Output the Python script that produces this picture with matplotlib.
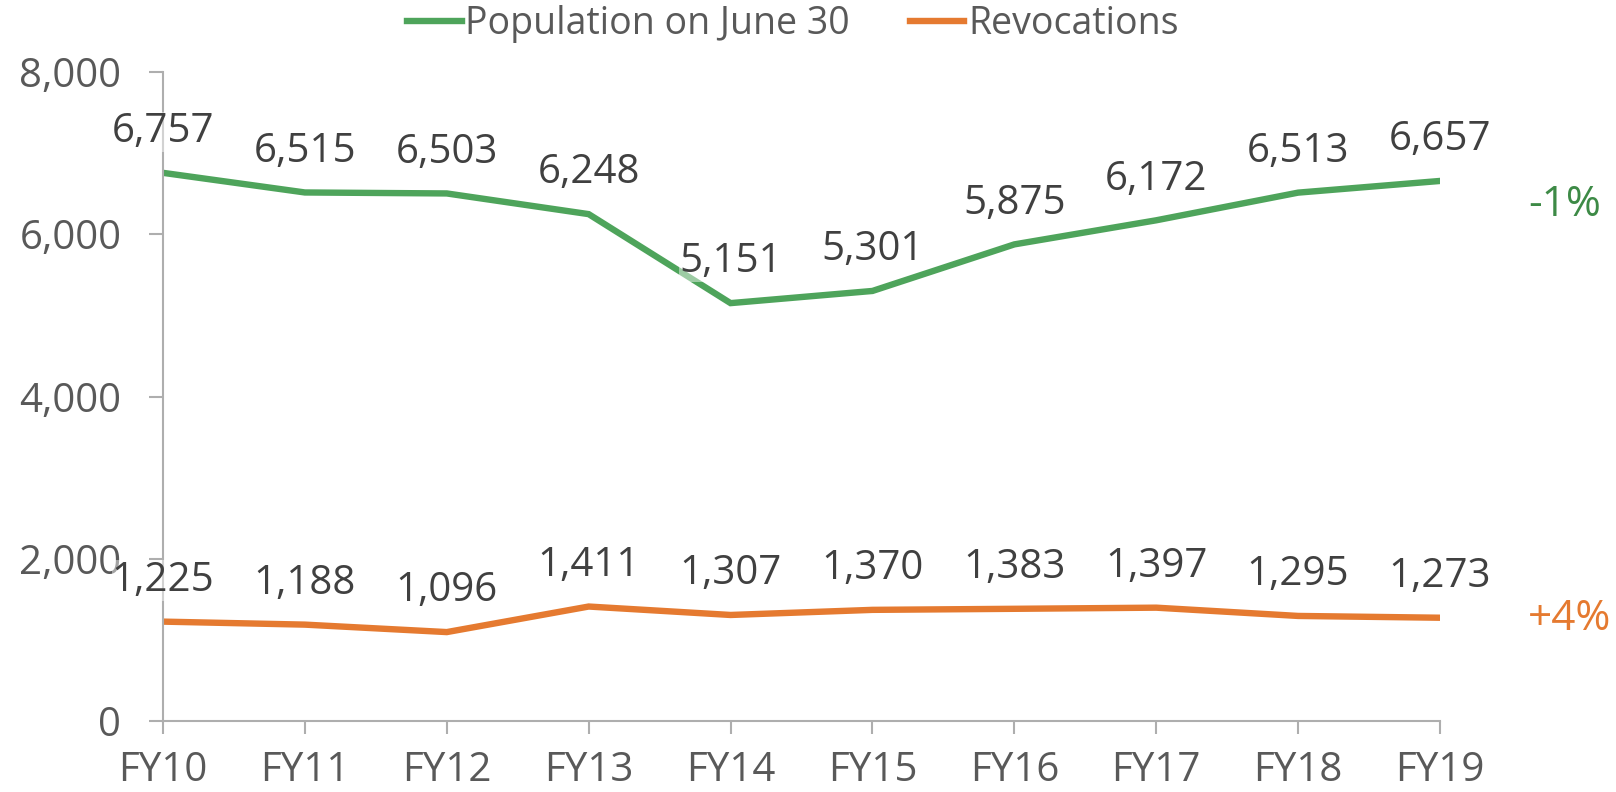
import matplotlib
matplotlib.use("Agg")
import matplotlib.pyplot as plt
from matplotlib.ticker import FuncFormatter

categories = ["FY10", "FY11", "FY12", "FY13", "FY14", "FY15", "FY16", "FY17", "FY18", "FY19"]
population = [6757, 6515, 6503, 6248, 5151, 5301, 5875, 6172, 6513, 6657]
revocations = [1225, 1188, 1096, 1411, 1307, 1370, 1383, 1397, 1295, 1273]
series_names = ["Population on June 30", "Revocations"]
change_labels = ["-1%", "+4%"]

GREEN = "#4EA45B"
ORANGE = "#E57A30"
GREEN_DARK = "#3D8A46"
AXIS_GRAY = "#AEAEAE"
TICK_TEXT = "#595959"
LABEL_TEXT = "#404040"

plt.rcParams["font.family"] = ["Open Sans", "DejaVu Sans"]

fig = plt.figure(figsize=(16.16, 7.92), dpi=100)
ax = fig.add_axes([163 / 1616, 1 - 721 / 792, (1440 - 163) / 1616, (721 - 72) / 792])

x = list(range(len(categories)))
ax.plot(x, population, color=GREEN, lw=4.6, solid_joinstyle="miter", label=series_names[0], zorder=2)
ax.plot(x, revocations, color=ORANGE, lw=4.6, solid_joinstyle="miter", label=series_names[1], zorder=2)

for xs, ys in ((x, population), (x, revocations)):
    for xi, yi in zip(xs, ys):
        ax.annotate(f"{yi:,}", (xi, yi), xytext=(0, 29.5), textcoords="offset points",
                    ha="center", va="center", fontsize=29, color=LABEL_TEXT,
                    bbox=dict(facecolor="white", alpha=0.45, edgecolor="none", pad=0),
                    zorder=3, annotation_clip=False)

ax.text(9.62, population[-1] - 300, change_labels[0], color=GREEN_DARK, fontsize=30.5,
        ha="left", va="center", clip_on=False)
ax.text(9.62, revocations[-1] - 10, change_labels[1], color=ORANGE, fontsize=30.5,
        ha="left", va="center", clip_on=False)

ax.set_xlim(0, len(categories) - 1)
ax.set_ylim(0, 8000)
ax.set_yticks(range(0, 8001, 2000))
ax.yaxis.set_major_formatter(FuncFormatter(lambda v, p: f"{int(v):,}"))
ax.set_xticks(x)
ax.set_xticklabels(categories)

for s in ("top", "right"):
    ax.spines[s].set_visible(False)
for s in ("left", "bottom"):
    ax.spines[s].set_color(AXIS_GRAY)
    ax.spines[s].set_linewidth(1.5)

ax.tick_params(axis="y", direction="out", length=10, width=1.5, color=AXIS_GRAY,
               labelsize=29, labelcolor=TICK_TEXT, pad=20)
ax.tick_params(axis="x", direction="out", length=9, width=1.5, color=AXIS_GRAY,
               labelsize=29, labelcolor=TICK_TEXT, pad=12)

leg = ax.legend(loc="center", bbox_to_anchor=((793 - 163) / (1440 - 163), 1 + (72 - 24) / (721 - 72)),
                ncol=2, frameon=False, fontsize=27, handlelength=1.45, handletextpad=0.1,
                columnspacing=1.6, borderaxespad=0, borderpad=0)
for t in leg.get_texts():
    t.set_color(TICK_TEXT)

fig.savefig("out.png", dpi=100)
